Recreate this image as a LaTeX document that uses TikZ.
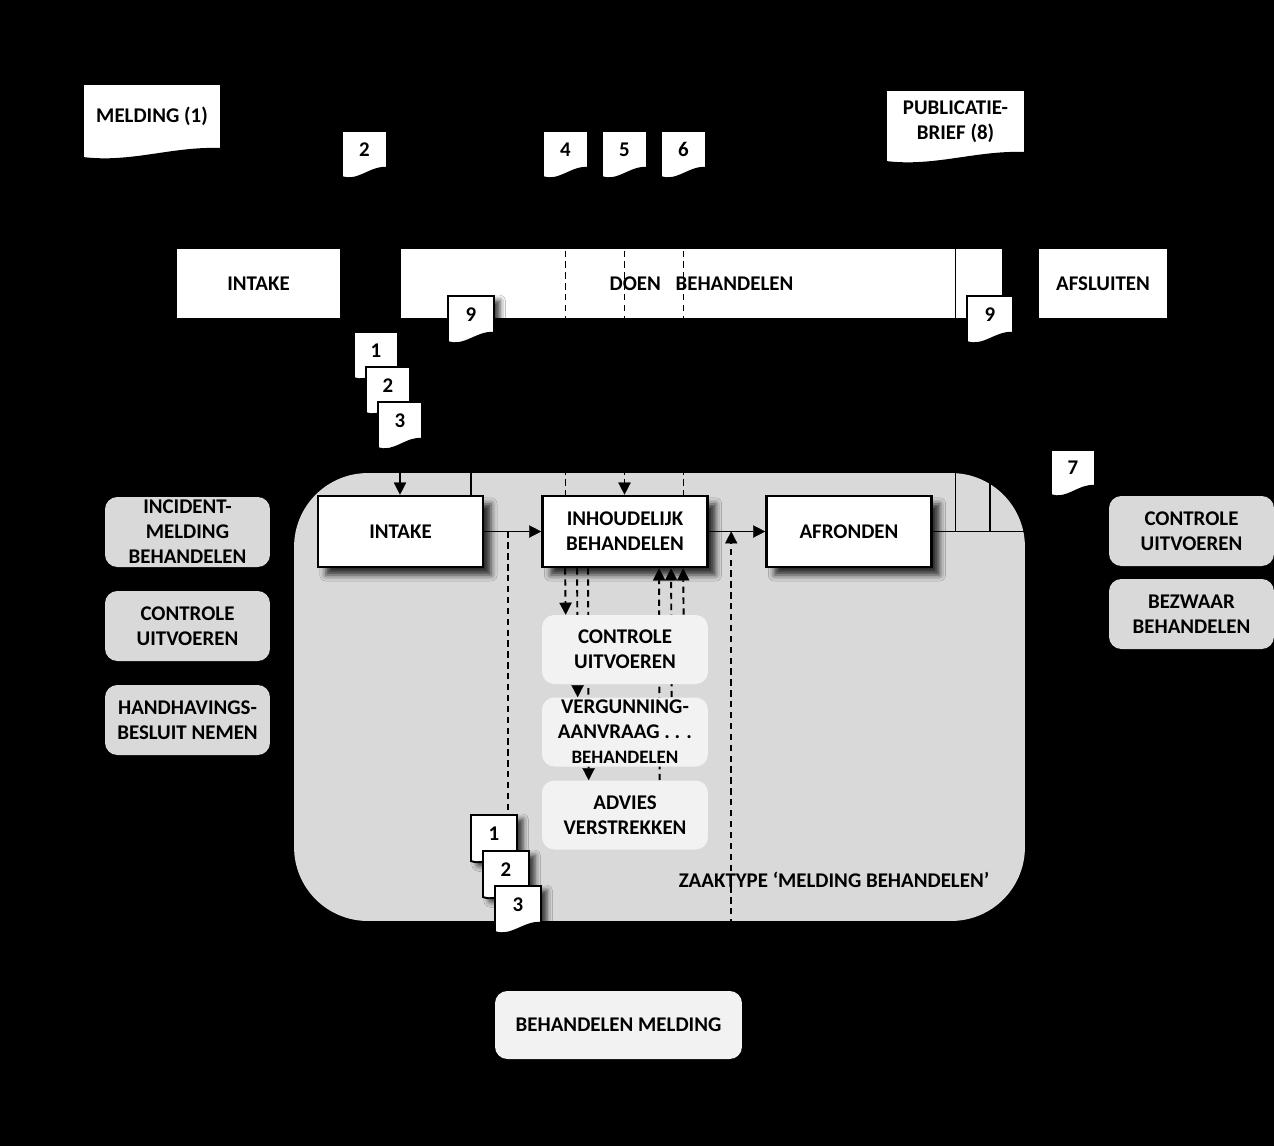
\documentclass[tikz,border=0pt]{standalone}
\usepackage{fontspec}
\setmainfont{Carlito}
\usetikzlibrary{arrows.meta,calc,shadows.blur}
\definecolor{panel}{HTML}{D9D9D9}
\definecolor{lightbox}{HTML}{F2F2F2}
\tikzset{
  topbox/.style={fill=white, minimum height=1.38cm, inner sep=0pt},
  procbox/.style={draw=black, line width=1.6pt, fill=white, minimum width=3.3cm, minimum height=1.42cm, inner sep=0pt, align=center,
    blur shadow={shadow xshift=4.5pt, shadow yshift=-4.5pt, shadow blur radius=3.5pt, shadow opacity=80}},
  subbox/.style={fill=lightbox, rounded corners=7pt, minimum width=3.32cm, minimum height=1.38cm, inner sep=0pt, align=center},
  placeholder/.style={minimum width=3.32cm, minimum height=1.38cm, inner sep=0pt},
  sidebox/.style={fill=panel, rounded corners=7pt, minimum width=3.3cm, minimum height=1.4cm, inner sep=0pt, align=center},
  docu/.style={draw=black, line width=1.1pt, fill=white},
  docshadow/.style={blur shadow={shadow xshift=3.5pt, shadow yshift=-2.5pt, shadow blur radius=3pt, shadow opacity=75}},
  flow/.style={line width=1.1pt},
  dashline/.style={line width=1.1pt, dash pattern=on 3.6pt off 2.6pt},
  fromdoc/.style={shorten <=3.6pt},
}
% document symbol: options, name, left, top, width, height, text
\newcommand{\docu}[7][]{%
  \draw[docu,#1] (#3,#4) -- ++(#5,0) -- ++(0,#6)
    .. controls +(-0.35*#5,-2) and +(0.35*#5,6) .. ++(-#5,9) -- cycle;
  \node[align=center, inner sep=0pt, outer sep=0pt, minimum width={#5*0.02cm}, minimum height={#6*0.02cm}]
    (#2) at ({#3+#5/2},{#4+#6/2}) {#7};
}
\begin{document}
\begin{tikzpicture}[x=0.02cm, y=-0.02cm, >={Triangle[length=6.8pt,width=7pt,line width=0.1pt,fill=black]},
    font=\fontsize{11.9}{14.2}\selectfont\bfseries]
  \fill[black] (0,0) rectangle (1274,1146);
  \useasboundingbox (0,0) rectangle (1274,1146);

  % phases
  \node[topbox, minimum width=3.26cm] (tintake) at (258.5,283.5) {INTAKE};
  \node[topbox, minimum width=12.02cm] (tbeh) at (701.5,283.5) {DOEN\hspace{.7em}BEHANDELEN};
  \node[topbox, minimum width=2.56cm] (tafs) at (1103,283.5) {AFSLUITEN};

  % zaaktype
  \node[fill=panel, rounded corners=42pt, minimum width=14.62cm, minimum height=8.96cm] (zaak) at (659.5,697) {};
  \node (zt) at (834,880) {ZAAKTYPE ‘MELDING BEHANDELEN’};

  \node[sidebox] (l1) at (187.5,532) {INCIDENT-\\MELDING\\BEHANDELEN};
  \node[sidebox] (l2) at (187.5,626) {CONTROLE\\UITVOEREN};
  \node[sidebox] (l3) at (187.5,720) {HANDHAVINGS-\\BESLUIT NEMEN};
  \node[sidebox] (r1) at (1191.5,531) {CONTROLE\\UITVOEREN};
  \node[sidebox] (r2) at (1191.5,614) {BEZWAAR\\BEHANDELEN};

  \node[procbox] (intake) at (400.5,531.5) {INTAKE};
  \node[procbox] (inh) at (625,531.5) {INHOUDELIJK\\BEHANDELEN};
  \node[procbox] (afr) at (849,531.5) {AFRONDEN};
  \node[subbox, minimum width=4.94cm, minimum height=1.36cm] (bm) at (618.5,1025) {BEHANDELEN MELDING};
  % sub-processes are filled in after the arrows
  \path node[placeholder] (ctrl) at (625,649.5) {}
        node[placeholder] (verg) at (625,732) {}
        node[placeholder] (adv) at (625,815) {};

  % documents
  \docu{meld}{83}{84}{138}{65}{MELDING (1)}
  \docu{d2}{342}{131}{45}{37}{2}
  \docu{d4}{543}{131}{45}{37}{4}
  \docu{d5}{602}{131}{45}{37}{5}
  \docu{d6}{661}{131}{45}{37}{6}
  \docu{pub}{886}{90}{139}{63}{PUBLICATIE-\\BRIEF (8)}
  \docu[docshadow]{d9a}{448}{296}{46}{37}{9}
  \docu[docshadow]{d9b}{967}{296}{46}{37}{9}
  \docu{s1}{354}{332}{44}{37}{1}
  \docu{s2}{366}{367}{44}{37}{2}
  \docu{s3}{378}{402}{44}{37}{3}
  \docu{d7}{1051}{450}{44}{36}{7}
  \docu[docshadow]{b1}{471}{815}{46}{37}{1}
  \docu[docshadow]{b2}{483}{851}{46}{37}{2}
  \docu[docshadow]{b3}{495}{886}{46}{37}{3}

  % connectors
  \coordinate (j1) at ($(intake.east)!0.41!(inh.west)$);
  \coordinate (j2) at ($(inh.east)!0.397!(afr.west)$);
  \draw[flow,->] (intake) -- (inh);
  \draw[flow,->] (inh) -- (afr);
  \draw[flow, shorten >=3.6pt] (afr.east) -| (d7.south);
  \draw[flow,fromdoc] (pub.south) -- (pub.south |- afr.east);
  \draw[flow,fromdoc] (d9b.south) -- (d9b.south |- afr.east);
  \draw[flow,fromdoc] (d9a.south) -- (d9a.south |- intake.north);
  \draw[flow,fromdoc,->] (s3.south) -- (s3.south |- intake.north);
  \draw[dashline,fromdoc] (d4.south) -- (d4.south |- inh.north);
  \draw[dashline,fromdoc,->] (d5.south) -- (d5.south |- inh.north);
  \draw[dashline,fromdoc] (d6.south) -- (d6.south |- inh.north);
  \foreach \s/\t in {0.48/ctrl, 0.72/verg, 0.94/adv}
    \draw[dashline,->] ([xshift=\s cm]inh.south west) -- ([xshift=\s cm]\t.north west);
  \foreach \s/\t in {2.84/ctrl, 2.6/verg, 2.36/adv}
    \draw[dashline,->] ([xshift=\s cm]\t.north west) -- ([xshift=\s cm]inh.south west);
  \draw[dashline,->] (j2 |- bm.north) -- (j2);
  \draw[dashline] (j1) -- (j1 |- b1.north);

  % sub-processes
  \node[subbox] (ctrl) at (625,649.5) {CONTROLE\\UITVOEREN};
  \node[subbox] (verg) at (625,732) {VERGUNNING-\\AANVRAAG . . .\\{\fontsize{10.8}{12}\selectfont BEHANDELEN}};
  \node[subbox] (adv) at (625,815) {ADVIES\\VERSTREKKEN};
\end{tikzpicture}
\end{document}
